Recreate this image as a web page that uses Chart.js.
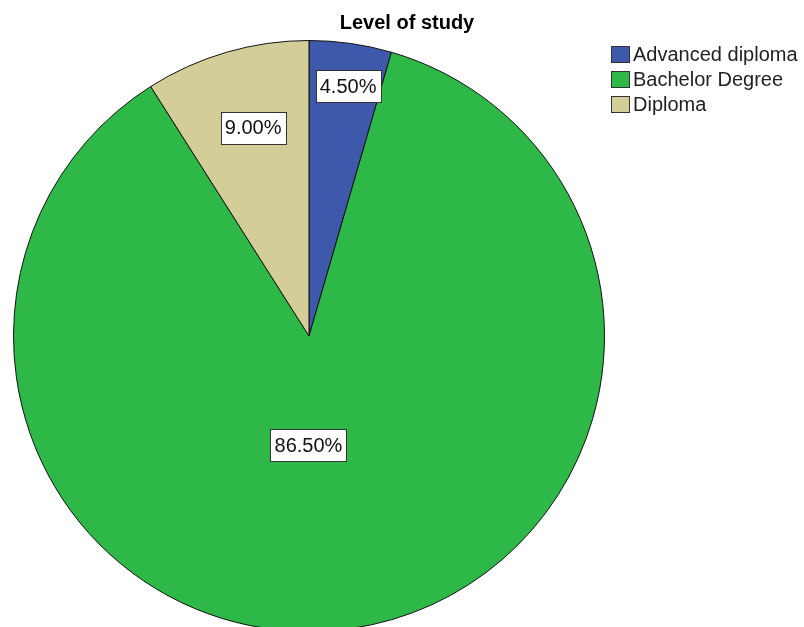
<!DOCTYPE html>
<html lang="en">
<head>
  <meta charset="UTF-8" />
  <title>Level of study</title>
  <script src="https://cdn.jsdelivr.net/npm/chart.js"></script>
  <style>
    body { margin: 0; overflow: hidden; background: #fff; font-family: "Liberation Sans", Arial, sans-serif; }
    #wrap { position: relative; width: 804px; height: 627px; overflow: hidden; }
    #pieChart { position: absolute; left: 0; top: 0; }
    #title { position: absolute; left: 0; width: 814px; top: 12px; text-align: center;
             font-weight: bold; font-size: 20px; line-height: 20px; color: #000; }
    #legend { position: absolute; left: 611px; top: 42px; }
    .row { display: flex; align-items: center; height: 25px; font-size: 20px; color: #222; }
    .box { width: 19px; height: 17px; box-sizing: border-box; border: 1px solid #333; margin-right: 3px; }
  </style>
</head>
<body>
  <div id="wrap">
    <canvas id="pieChart" width="804" height="700"></canvas>
    <div id="title"></div>
    <div id="legend"></div>
  </div>

  <script>
    const chartTitle = 'Level of study';
    const categories = ['Advanced diploma', 'Bachelor Degree', 'Diploma'];
    const percents = [4.5, 86.5, 9.0];
    const sliceColors = ['#3E58AC', '#2EB848', '#D3CE97'];
    // where each slice label sits: fraction of radius, and a small turn (degrees) off the mid angle
    const labelRadius = [0.855, 0.37, 0.73];
    const labelTurn = [0.8, 8.4, 1.2];

    document.getElementById('title').textContent = chartTitle;

    // legend
    const legend = document.getElementById('legend');
    categories.forEach((name, i) => {
      const row = document.createElement('div');
      row.className = 'row';
      const box = document.createElement('div');
      box.className = 'box';
      box.style.background = sliceColors[i];
      const txt = document.createElement('span');
      txt.textContent = name;
      row.appendChild(box);
      row.appendChild(txt);
      legend.appendChild(row);
    });

    // boxed percentage labels
    const boxLabels = {
      id: 'boxLabels',
      afterDatasetsDraw(chart) {
        const ctx = chart.ctx;
        const meta = chart.getDatasetMeta(0);
        ctx.save();
        ctx.font = '20px "Liberation Sans", Arial, sans-serif';
        ctx.textAlign = 'center';
        ctx.textBaseline = 'middle';
        meta.data.forEach((arc, i) => {
          const p = arc.getProps(['x', 'y', 'startAngle', 'endAngle', 'outerRadius'], true);
          const mid = (p.startAngle + p.endAngle) / 2 + labelTurn[i] * Math.PI / 180;
          const r = p.outerRadius * labelRadius[i];
          const cx = p.x + Math.cos(mid) * r;
          const cy = p.y + Math.sin(mid) * r;
          const text = percents[i].toFixed(2) + '%';
          const w = Math.round(ctx.measureText(text).width + 8);
          const h = 32;
          const bx = Math.round(cx - w / 2) + 0.5;
          const by = Math.round(cy - h / 2) + 0.5;
          ctx.fillStyle = '#fff';
          ctx.fillRect(bx, by, w, h);
          ctx.strokeStyle = '#333';
          ctx.lineWidth = 1;
          ctx.strokeRect(bx, by, w, h);
          ctx.fillStyle = '#111';
          ctx.fillText(text, cx, cy + 1);
        });
        ctx.restore();
      }
    };

    const ctx = document.getElementById('pieChart').getContext('2d');
    new Chart(ctx, {
      type: 'pie',
      data: {
        labels: categories,
        datasets: [{
          data: percents,
          backgroundColor: sliceColors,
          borderColor: '#111',
          borderWidth: 1
        }]
      },
      options: {
        responsive: false,
        animation: false,
        devicePixelRatio: 1,
        layout: { padding: { left: 13, right: 199, top: 40, bottom: 68 } },
        plugins: {
          legend: { display: false },
          title: { display: false },
          tooltip: { enabled: false }
        }
      },
      plugins: [boxLabels]
    });
  </script>
</body>
</html>
